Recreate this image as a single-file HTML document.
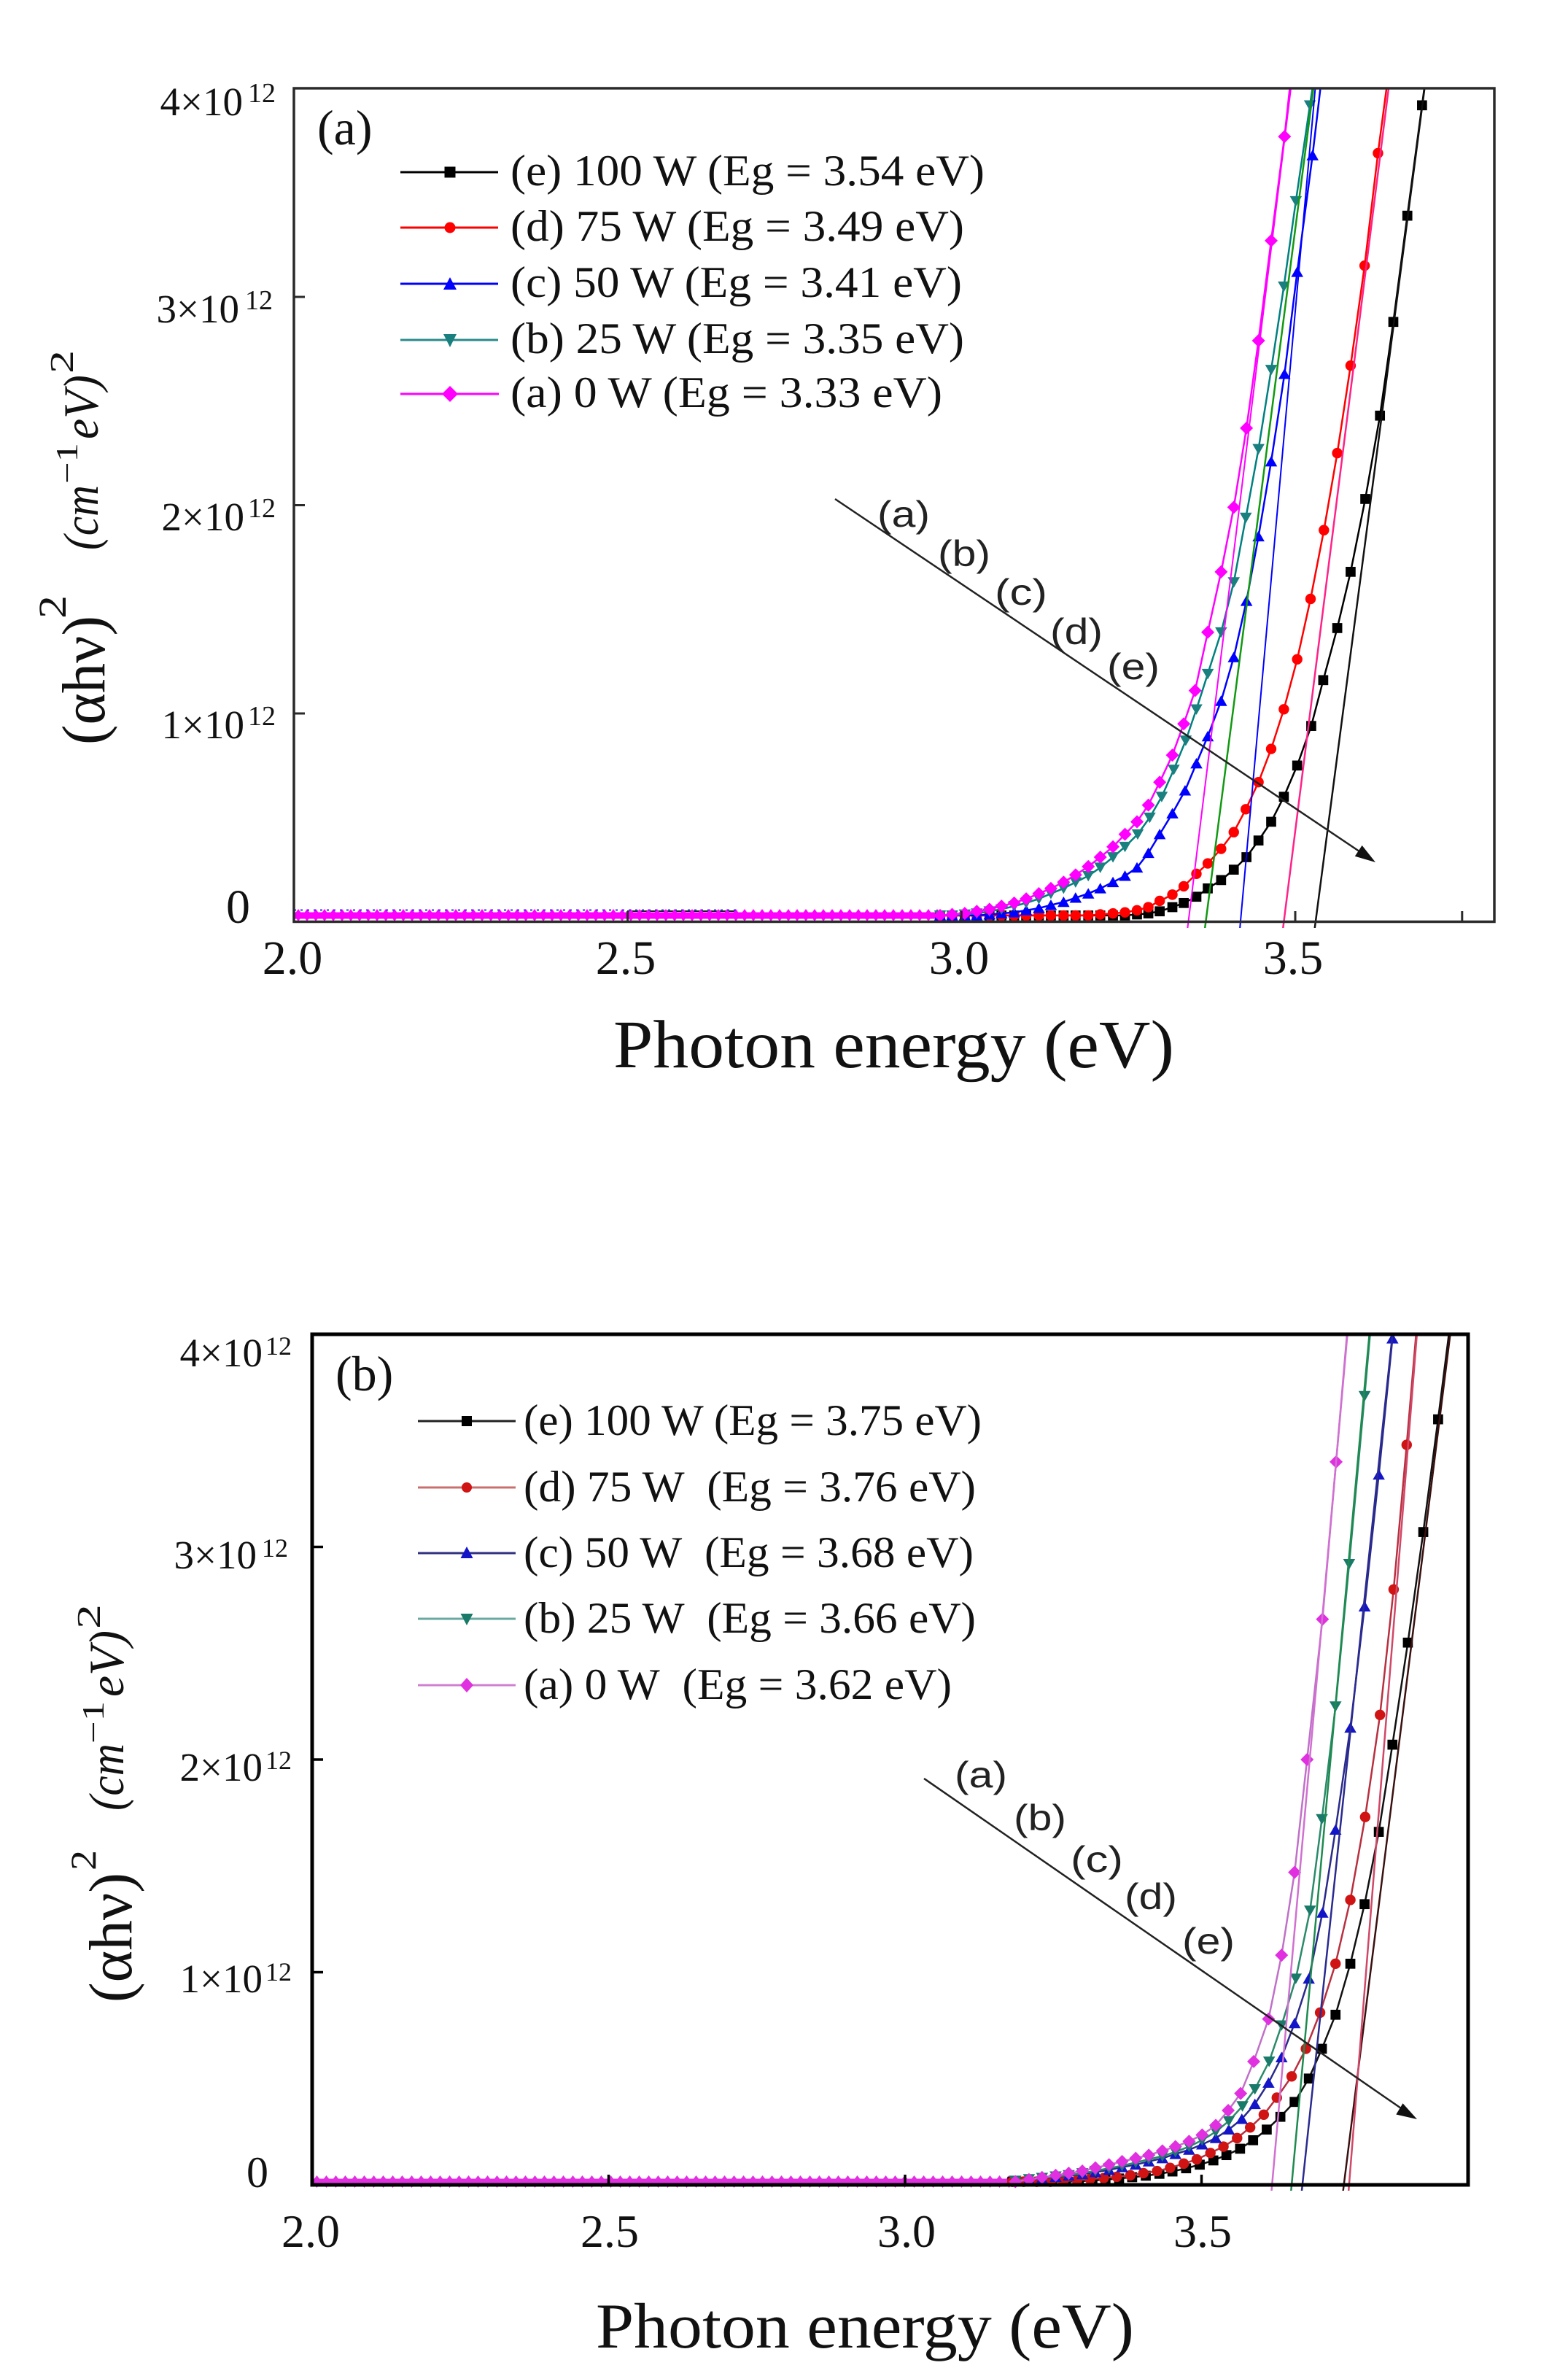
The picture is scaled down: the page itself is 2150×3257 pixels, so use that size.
<!DOCTYPE html>
<html><head><meta charset="utf-8"><style>html,body{margin:0;padding:0;background:#fff}svg{display:block}</style></head>
<body>
<svg xmlns="http://www.w3.org/2000/svg" width="2150" height="3257" viewBox="0 0 2150 3257" font-family="'Liberation Serif', serif">
<defs>
  <clipPath id="clipA"><rect x="403" y="121" width="1646" height="1151"/></clipPath>
  <clipPath id="clipB"><rect x="428" y="1829" width="1585" height="1174"/></clipPath>
  <!-- panel (a) markers: 18px in screen space -->
  <marker id="a1" markerUnits="userSpaceOnUse" markerWidth="0.01967" markerHeight="0.06305" viewBox="0 0 10 10" refX="5" refY="5" preserveAspectRatio="none"><rect x="1.2" y="1.2" width="7.6" height="7.6" fill="#000"/></marker>
  <marker id="a2" markerUnits="userSpaceOnUse" markerWidth="0.01967" markerHeight="0.06305" viewBox="0 0 10 10" refX="5" refY="5" preserveAspectRatio="none"><circle cx="5" cy="5" r="4" fill="#ff0000"/></marker>
  <marker id="a3" markerUnits="userSpaceOnUse" markerWidth="0.01967" markerHeight="0.06305" viewBox="0 0 10 10" refX="5" refY="5" preserveAspectRatio="none"><polygon points="5,0.8 9.6,8.8 0.4,8.8" fill="#0000ff"/></marker>
  <marker id="a4" markerUnits="userSpaceOnUse" markerWidth="0.01967" markerHeight="0.06305" viewBox="0 0 10 10" refX="5" refY="5" preserveAspectRatio="none"><polygon points="0.4,1.2 9.6,1.2 5,9.2" fill="#1a7f7f"/></marker>
  <marker id="a5" markerUnits="userSpaceOnUse" markerWidth="0.01967" markerHeight="0.06305" viewBox="0 0 10 10" refX="5" refY="5" preserveAspectRatio="none"><polygon points="5,0 10,5 5,10 0,5" fill="#ff00ff"/></marker>
  <!-- panel (b) markers -->
  <marker id="b1" markerUnits="userSpaceOnUse" markerWidth="0.02214" markerHeight="0.06175" viewBox="0 0 10 10" refX="5" refY="5" preserveAspectRatio="none"><rect x="1.2" y="1.2" width="7.6" height="7.6" fill="#000"/></marker>
  <marker id="b2" markerUnits="userSpaceOnUse" markerWidth="0.02214" markerHeight="0.06175" viewBox="0 0 10 10" refX="5" refY="5" preserveAspectRatio="none"><circle cx="5" cy="5" r="4" fill="#d01414"/></marker>
  <marker id="b3" markerUnits="userSpaceOnUse" markerWidth="0.02214" markerHeight="0.06175" viewBox="0 0 10 10" refX="5" refY="5" preserveAspectRatio="none"><polygon points="5,0.8 9.6,8.8 0.4,8.8" fill="#1414c8"/></marker>
  <marker id="b4" markerUnits="userSpaceOnUse" markerWidth="0.02214" markerHeight="0.06175" viewBox="0 0 10 10" refX="5" refY="5" preserveAspectRatio="none"><polygon points="0.4,1.2 9.6,1.2 5,9.2" fill="#1a7a6a"/></marker>
  <marker id="b5" markerUnits="userSpaceOnUse" markerWidth="0.02214" markerHeight="0.06175" viewBox="0 0 10 10" refX="5" refY="5" preserveAspectRatio="none"><polygon points="5,0 10,5 5,10 0,5" fill="#e030e0"/></marker>
  <pattern id="bandA" patternUnits="userSpaceOnUse" x="403" y="1246" width="12" height="17"><polygon points="6,0 12,8.5 6,17 0,8.5" fill="#ff00ff"/></pattern>
  <pattern id="bandB" patternUnits="userSpaceOnUse" x="428" y="2982" width="13" height="17"><polygon points="6.5,0 13,8.5 6.5,17 0,8.5" fill="#e030e0"/></pattern>
</defs>

<!-- ================= PANEL (a) ================= -->
<g clip-path="url(#clipA)">
  <line x1="860" y1="1249" x2="1010" y2="1249" stroke="#222" stroke-width="2"/>
  <rect x="403" y="1246" width="886" height="17" fill="url(#bandA)"/>
  <rect x="403" y="1250.5" width="886" height="9" fill="#ff00ff"/>
  <line x1="403" y1="1247.5" x2="1010" y2="1247.5" stroke="#3030ff" stroke-width="2" stroke-dasharray="3 6"/>
  <g transform="matrix(915.3 0 0 285.5 -1427.6 1263.5)" fill="none" stroke-linejoin="round">
    <polyline vector-effect="non-scaling-stroke" stroke="#000" stroke-width="2.5" marker-start="url(#a1)" marker-mid="url(#a1)" marker-end="url(#a1)" points="3.710,-4.4 3.690,-3.92 3.668,-3.39 3.647,-2.88 3.627,-2.43 3.605,-2.03 3.583,-1.68 3.563,-1.41 3.542,-1.16 3.524,-0.94 3.503,-0.75 3.483,-0.60 3.464,-0.48 3.445,-0.39 3.427,-0.31 3.408,-0.25 3.389,-0.20 3.369,-0.16 3.352,-0.12 3.333,-0.09 3.316,-0.07 3.297,-0.05 3.280,-0.04 3.263,-0.035 3.245,-0.03 3.227,-0.03 3.208,-0.03 3.190,-0.03 3.171,-0.03 3.153,-0.03 3.134,-0.03 3.116,-0.03 3.097,-0.03 3.079,-0.03 3.060,-0.03 3.042,-0.03 3.023,-0.03 3.005,-0.03 2.986,-0.03 2.968,-0.03"/>
    <polyline vector-effect="non-scaling-stroke" stroke="#ff0000" stroke-width="2.5" marker-start="url(#a2)" marker-mid="url(#a2)" marker-end="url(#a2)" points="3.645,-4.2 3.624,-3.69 3.604,-3.15 3.583,-2.67 3.563,-2.25 3.543,-1.88 3.523,-1.55 3.503,-1.26 3.483,-1.02 3.464,-0.83 3.445,-0.67 3.426,-0.54 3.408,-0.43 3.389,-0.35 3.369,-0.28 3.352,-0.23 3.333,-0.17 3.316,-0.13 3.297,-0.10 3.280,-0.07 3.263,-0.055 3.245,-0.045 3.227,-0.04 3.208,-0.035 3.190,-0.03 3.171,-0.03 3.153,-0.03 3.134,-0.03 3.116,-0.03 3.097,-0.03 3.079,-0.03 3.060,-0.03 3.042,-0.03 3.023,-0.03 3.005,-0.03 2.986,-0.03 2.968,-0.03"/>
    <polyline vector-effect="non-scaling-stroke" stroke="#0000ff" stroke-width="2.5" marker-start="url(#a3)" marker-mid="url(#a3)" marker-end="url(#a3)" points="3.545,-4.2 3.526,-3.68 3.503,-3.12 3.484,-2.63 3.464,-2.21 3.445,-1.85 3.427,-1.54 3.408,-1.27 3.389,-1.06 3.369,-0.89 3.352,-0.76 3.335,-0.63 3.316,-0.52 3.297,-0.42 3.280,-0.33 3.263,-0.26 3.245,-0.22 3.227,-0.19 3.208,-0.16 3.190,-0.135 3.171,-0.115 3.153,-0.095 3.134,-0.08 3.116,-0.065 3.097,-0.055 3.079,-0.045 3.060,-0.04 3.042,-0.035 3.023,-0.03 3.005,-0.03 2.986,-0.03 2.968,-0.03"/>
    <polyline vector-effect="non-scaling-stroke" stroke="#008080" stroke-width="2.5" marker-start="url(#a4)" marker-mid="url(#a4)" marker-end="url(#a4)" points="3.540,-4.3 3.522,-3.92 3.501,-3.46 3.483,-3.05 3.464,-2.65 3.445,-2.27 3.426,-1.94 3.408,-1.63 3.389,-1.39 3.369,-1.19 3.352,-1.02 3.336,-0.87 3.318,-0.73 3.300,-0.60 3.282,-0.50 3.264,-0.42 3.245,-0.36 3.227,-0.31 3.208,-0.26 3.190,-0.22 3.171,-0.19 3.153,-0.16 3.134,-0.135 3.116,-0.11 3.097,-0.09 3.079,-0.075 3.060,-0.06 3.042,-0.05 3.023,-0.04 3.005,-0.035 2.986,-0.03 2.968,-0.03"/>
    <polyline vector-effect="non-scaling-stroke" stroke="#ff00ff" stroke-width="2.5" marker-start="url(#a5)" marker-mid="url(#a5)" marker-end="url(#a5)" points="3.502,-4.3 3.484,-3.77 3.464,-3.27 3.445,-2.79 3.427,-2.37 3.408,-1.99 3.389,-1.68 3.369,-1.39 3.350,-1.11 3.333,-0.95 3.316,-0.80 3.297,-0.67 3.280,-0.56 3.263,-0.48 3.245,-0.42 3.227,-0.36 3.208,-0.31 3.190,-0.265 3.171,-0.225 3.153,-0.19 3.134,-0.16 3.116,-0.135 3.097,-0.11 3.079,-0.09 3.060,-0.075 3.042,-0.06 3.023,-0.05 3.005,-0.04 2.986,-0.035 2.968,-0.03"/>
    <!-- linear fits -->
    <polyline vector-effect="non-scaling-stroke" stroke="#111" stroke-width="2.5" points="3.5293,0.03 3.6978,-4.1"/>
    <polyline vector-effect="non-scaling-stroke" stroke="#ff2288" stroke-width="2.5" points="3.4818,0.03 3.6438,-4.1"/>
    <polyline vector-effect="non-scaling-stroke" stroke="#0000ff" stroke-width="2" points="3.4172,0.03 3.5328,-4.1"/>
    <polyline vector-effect="non-scaling-stroke" stroke="#119911" stroke-width="2.5" points="3.3648,0.03 3.5313,-4.1"/>
    <polyline vector-effect="non-scaling-stroke" stroke="#ff00ff" stroke-width="2" points="3.3388,0.03 3.4973,-4.1"/>
  </g>
</g>
<!-- frame (a) -->
<rect x="403" y="121" width="1646" height="1142.5" fill="none" stroke="#2a2a2a" stroke-width="3.5"/>
<g stroke="#2a2a2a" stroke-width="3">
  <line x1="403" y1="978" x2="418" y2="978"/>
  <line x1="403" y1="692.5" x2="418" y2="692.5"/>
  <line x1="403" y1="407" x2="418" y2="407"/>
  <line x1="860.6" y1="1263.5" x2="860.6" y2="1249"/>
  <line x1="1318.3" y1="1263.5" x2="1318.3" y2="1249"/>
  <line x1="1776" y1="1263.5" x2="1776" y2="1249"/>
  <line x1="2004.8" y1="1263.5" x2="2004.8" y2="1249"/>
</g>
<!-- arrow (a) -->
<line x1="1145" y1="684" x2="1872" y2="1172.5" stroke="#222" stroke-width="2.5"/>
<polygon points="1886,1182 1857.8,1173.7 1867.6,1158.9" fill="#111"/>
<g font-family="'Liberation Sans', sans-serif" font-size="50" fill="#222" text-anchor="middle">
  <text x="1239" y="722" textLength="72" lengthAdjust="spacingAndGlyphs">(a)</text>
  <text x="1322" y="776" textLength="72" lengthAdjust="spacingAndGlyphs">(b)</text>
  <text x="1400" y="829" textLength="72" lengthAdjust="spacingAndGlyphs">(c)</text>
  <text x="1476" y="883" textLength="72" lengthAdjust="spacingAndGlyphs">(d)</text>
  <text x="1554" y="931" textLength="72" lengthAdjust="spacingAndGlyphs">(e)</text>
</g>
<!-- y tick labels (a) -->
<g fill="#111">
  <text x="333" y="158" font-size="55" text-anchor="end">4×10</text><text x="340" y="140" font-size="38">12</text>
  <text x="328" y="442" font-size="55" text-anchor="end">3×10</text><text x="336" y="424" font-size="38">12</text>
  <text x="335" y="727" font-size="55" text-anchor="end">2×10</text><text x="340" y="709" font-size="38">12</text>
  <text x="335" y="1012" font-size="55" text-anchor="end">1×10</text><text x="340" y="994" font-size="38">12</text>
  <text x="343" y="1265" font-size="66" text-anchor="end">0</text>
</g>
<!-- x tick labels (a) -->
<g fill="#111" font-size="66" text-anchor="middle">
  <text x="401" y="1335">2.0</text>
  <text x="858" y="1335">2.5</text>
  <text x="1315" y="1335">3.0</text>
  <text x="1773" y="1335">3.5</text>
</g>
<text x="841" y="1463" font-size="93" fill="#111" textLength="769" lengthAdjust="spacingAndGlyphs">Photon energy (eV)</text>
<text x="435" y="198" font-size="68" fill="#111">(a)</text>
<!-- y title (a) -->
<g fill="#111">
  <text transform="translate(143,1021) rotate(-90)" font-size="84" textLength="177" lengthAdjust="spacingAndGlyphs">(αhν)</text>
  <text transform="translate(90,848) rotate(-90)" font-size="54" textLength="32" lengthAdjust="spacingAndGlyphs">2</text>
  <text transform="translate(134,754) rotate(-90)" font-size="68" font-style="italic" textLength="89" lengthAdjust="spacingAndGlyphs">(cm</text>
  <text transform="translate(106,663) rotate(-90)" font-size="42" textLength="56" lengthAdjust="spacingAndGlyphs">−1</text>
  <text transform="translate(134,602) rotate(-90)" font-size="68" font-style="italic" textLength="88" lengthAdjust="spacingAndGlyphs">eV)</text>
  <text transform="translate(100,512) rotate(-90)" font-size="46" textLength="32" lengthAdjust="spacingAndGlyphs">2</text>
</g>
<!-- legend (a) -->
<g stroke-width="3">
  <line x1="549" y1="236" x2="683" y2="236" stroke="#000"/>
  <line x1="549" y1="312" x2="683" y2="312" stroke="#ff0000"/>
  <line x1="549" y1="389" x2="683" y2="389" stroke="#0000ff"/>
  <line x1="549" y1="466" x2="683" y2="466" stroke="#2a8a8a"/>
  <line x1="549" y1="540" x2="684" y2="540" stroke="#ff00ff"/>
</g>
<rect x="609.5" y="228.5" width="15" height="15" fill="#000"/>
<circle cx="617" cy="312" r="7.5" fill="#ff0000"/>
<polygon points="617,380 626,397 608,397" fill="#0000ff"/>
<polygon points="608,458 626,458 617,476" fill="#1a7f7f"/>
<polygon points="617,529 628,540 617,551 606,540" fill="#ff00ff"/>
<g font-size="60" fill="#111">
  <text x="700" y="254" textLength="650" lengthAdjust="spacingAndGlyphs">(e) 100 W (Eg = 3.54 eV)</text>
  <text x="700" y="330" textLength="622" lengthAdjust="spacingAndGlyphs">(d) 75 W (Eg = 3.49 eV)</text>
  <text x="700" y="407" textLength="619" lengthAdjust="spacingAndGlyphs">(c) 50 W (Eg = 3.41 eV)</text>
  <text x="700" y="484" textLength="622" lengthAdjust="spacingAndGlyphs">(b) 25 W (Eg = 3.35 eV)</text>
  <text x="700" y="558" textLength="592" lengthAdjust="spacingAndGlyphs">(a) 0 W (Eg = 3.33 eV)</text>
</g>

<!-- ================= PANEL (b) ================= -->
<g clip-path="url(#clipB)">
  <rect x="428" y="2982" width="964" height="17" fill="url(#bandB)"/>
  <rect x="428" y="2986.5" width="964" height="9" fill="#e030e0"/>
  <g transform="matrix(813 0 0 291.5 -1198 2995)" fill="none" stroke-linejoin="round">
    <polyline vector-effect="non-scaling-stroke" stroke="#111" stroke-width="2.5" marker-start="url(#b1)" marker-mid="url(#b1)" marker-end="url(#b1)" points="3.924,-4.15 3.899,-3.60 3.874,-3.07 3.848,-2.55 3.822,-2.07 3.799,-1.66 3.775,-1.32 3.751,-1.04 3.726,-0.80 3.703,-0.64 3.681,-0.50 3.657,-0.39 3.633,-0.32 3.610,-0.26 3.587,-0.21 3.565,-0.17 3.542,-0.14 3.520,-0.115 3.497,-0.095 3.474,-0.078 3.451,-0.063 3.429,-0.052 3.406,-0.043 3.383,-0.036 3.361,-0.03 3.338,-0.025 3.316,-0.02 3.293,-0.017 3.271,-0.015 3.248,-0.015 3.226,-0.015 3.203,-0.015 3.181,-0.015"/>
    <polyline vector-effect="non-scaling-stroke" stroke="#b83040" stroke-width="2.5" marker-start="url(#b2)" marker-mid="url(#b2)" marker-end="url(#b2)" points="3.868,-4.2 3.846,-3.48 3.824,-2.80 3.801,-2.21 3.776,-1.73 3.751,-1.34 3.726,-1.04 3.700,-0.81 3.676,-0.64 3.652,-0.51 3.627,-0.41 3.605,-0.33 3.582,-0.27 3.560,-0.22 3.537,-0.18 3.515,-0.15 3.492,-0.12 3.470,-0.10 3.447,-0.08 3.425,-0.065 3.402,-0.055 3.380,-0.045 3.357,-0.038 3.335,-0.032 3.312,-0.027 3.290,-0.022 3.267,-0.018 3.245,-0.015 3.222,-0.015 3.200,-0.015 3.181,-0.015"/>
    <polyline vector-effect="non-scaling-stroke" stroke="#2a2a8a" stroke-width="2.5" marker-start="url(#b3)" marker-mid="url(#b3)" marker-end="url(#b3)" points="3.845,-4.6 3.822,-3.98 3.799,-3.34 3.775,-2.72 3.751,-2.15 3.726,-1.67 3.704,-1.28 3.681,-0.97 3.657,-0.76 3.635,-0.60 3.613,-0.48 3.590,-0.38 3.568,-0.31 3.546,-0.26 3.524,-0.22 3.501,-0.19 3.479,-0.165 3.456,-0.145 3.434,-0.125 3.411,-0.11 3.389,-0.095 3.366,-0.083 3.344,-0.07 3.321,-0.06 3.299,-0.05 3.276,-0.043 3.254,-0.037 3.231,-0.03 3.209,-0.025 3.186,-0.02"/>
    <polyline vector-effect="non-scaling-stroke" stroke="#2a8a6a" stroke-width="2.5" marker-start="url(#b4)" marker-mid="url(#b4)" marker-end="url(#b4)" points="3.797,-4.4 3.775,-3.71 3.749,-2.92 3.726,-2.25 3.703,-1.72 3.683,-1.29 3.659,-0.97 3.635,-0.75 3.614,-0.58 3.590,-0.45 3.569,-0.37 3.546,-0.30 3.524,-0.25 3.501,-0.21 3.479,-0.18 3.456,-0.155 3.434,-0.135 3.411,-0.12 3.389,-0.105 3.366,-0.09 3.344,-0.078 3.321,-0.066 3.299,-0.055 3.276,-0.046 3.254,-0.04 3.231,-0.033 3.209,-0.027 3.186,-0.02"/>
    <polyline vector-effect="non-scaling-stroke" stroke="#c070c8" stroke-width="2.5" marker-start="url(#b5)" marker-mid="url(#b5)" marker-end="url(#b5)" points="3.749,-4.12 3.727,-3.40 3.704,-2.66 3.678,-2.00 3.657,-1.47 3.635,-1.08 3.613,-0.78 3.588,-0.58 3.566,-0.43 3.545,-0.35 3.524,-0.28 3.501,-0.235 3.479,-0.205 3.456,-0.18 3.434,-0.16 3.411,-0.14 3.389,-0.125 3.366,-0.11 3.344,-0.095 3.321,-0.08 3.299,-0.065 3.276,-0.055 3.254,-0.045 3.231,-0.035 3.209,-0.025 3.186,-0.015"/>
    <!-- linear fits -->
    <polyline vector-effect="non-scaling-stroke" stroke="#3a1010" stroke-width="2.5" points="3.7387,0.03 3.9239,-4.1"/>
    <polyline vector-effect="non-scaling-stroke" stroke="#d04868" stroke-width="2.5" points="3.748,0.03 3.8661,-4.1"/>
    <polyline vector-effect="non-scaling-stroke" stroke="#2a2a90" stroke-width="2.5" points="3.669,0.03 3.8259,-4.1"/>
    <polyline vector-effect="non-scaling-stroke" stroke="#1e8a50" stroke-width="2.5" points="3.651,0.03 3.7864,-4.1"/>
    <polyline vector-effect="non-scaling-stroke" stroke="#d070d0" stroke-width="2.5" points="3.618,0.03 3.7492,-4.1"/>
  </g>
</g>
<!-- frame (b) -->
<rect x="428" y="1829" width="1585" height="1166" fill="none" stroke="#000" stroke-width="5"/>
<g stroke="#000" stroke-width="3.5">
  <line x1="428" y1="2703.5" x2="443" y2="2703.5"/>
  <line x1="428" y1="2412" x2="443" y2="2412"/>
  <line x1="428" y1="2120.5" x2="443" y2="2120.5"/>
  <line x1="834.5" y1="2995" x2="834.5" y2="2981"/>
  <line x1="1241" y1="2995" x2="1241" y2="2981"/>
  <line x1="1647.5" y1="2995" x2="1647.5" y2="2981"/>
</g>
<!-- arrow (b) -->
<line x1="1267" y1="2438" x2="1929" y2="2895.5" stroke="#222" stroke-width="2.5"/>
<polygon points="1943,2905 1914.3,2898.5 1923.5,2883.3" fill="#111"/>
<g font-family="'Liberation Sans', sans-serif" font-size="50" fill="#222" text-anchor="middle">
  <text x="1345" y="2450" textLength="72" lengthAdjust="spacingAndGlyphs">(a)</text>
  <text x="1426" y="2509" textLength="72" lengthAdjust="spacingAndGlyphs">(b)</text>
  <text x="1504" y="2566" textLength="72" lengthAdjust="spacingAndGlyphs">(c)</text>
  <text x="1578" y="2617" textLength="72" lengthAdjust="spacingAndGlyphs">(d)</text>
  <text x="1657" y="2678" textLength="72" lengthAdjust="spacingAndGlyphs">(e)</text>
</g>
<!-- y tick labels (b) -->
<g fill="#111">
  <text x="360" y="1873" font-size="55" text-anchor="end">4×10</text><text x="364" y="1857" font-size="36">12</text>
  <text x="352" y="2150" font-size="55" text-anchor="end">3×10</text><text x="359" y="2134" font-size="36">12</text>
  <text x="360" y="2441" font-size="55" text-anchor="end">2×10</text><text x="364" y="2425" font-size="36">12</text>
  <text x="360" y="2731" font-size="55" text-anchor="end">1×10</text><text x="364" y="2715" font-size="36">12</text>
  <text x="368" y="2998" font-size="60" text-anchor="end">0</text>
</g>
<!-- x tick labels (b) -->
<g fill="#111" font-size="64" text-anchor="middle">
  <text x="426" y="3080">2.0</text>
  <text x="836" y="3080">2.5</text>
  <text x="1243" y="3080">3.0</text>
  <text x="1649" y="3080">3.5</text>
</g>
<text x="817" y="3218" font-size="88" fill="#111" textLength="738" lengthAdjust="spacingAndGlyphs">Photon energy (eV)</text>
<text x="460" y="1906" font-size="68" fill="#111">(b)</text>
<!-- y title (b) -->
<g fill="#111">
  <text transform="translate(180,2745) rotate(-90)" font-size="84" textLength="178" lengthAdjust="spacingAndGlyphs">(αhν)</text>
  <text transform="translate(131,2564) rotate(-90)" font-size="50" textLength="28" lengthAdjust="spacingAndGlyphs">2</text>
  <text transform="translate(169,2482) rotate(-90)" font-size="68" font-style="italic" textLength="92" lengthAdjust="spacingAndGlyphs">(cm</text>
  <text transform="translate(142,2390) rotate(-90)" font-size="42" textLength="58" lengthAdjust="spacingAndGlyphs">−1</text>
  <text transform="translate(169,2326) rotate(-90)" font-size="68" font-style="italic" textLength="91" lengthAdjust="spacingAndGlyphs">eV)</text>
  <text transform="translate(137,2233) rotate(-90)" font-size="46" textLength="34" lengthAdjust="spacingAndGlyphs">2</text>
</g>
<!-- legend (b) -->
<g stroke-width="3">
  <line x1="573" y1="1948" x2="707" y2="1948" stroke="#222"/>
  <line x1="573" y1="2039" x2="707" y2="2039" stroke="#c87070"/>
  <line x1="573" y1="2129" x2="707" y2="2129" stroke="#303080"/>
  <line x1="573" y1="2219" x2="707" y2="2219" stroke="#6aa8a0"/>
  <line x1="573" y1="2310" x2="707" y2="2310" stroke="#d080d0"/>
</g>
<rect x="633" y="1941" width="14" height="14" fill="#000"/>
<circle cx="640" cy="2039" r="7" fill="#d01414"/>
<polygon points="640,2120 648.5,2136 631.5,2136" fill="#1414c8"/>
<polygon points="631.5,2212 648.5,2212 640,2228" fill="#1a7a6a"/>
<polygon points="640,2300 649,2310 640,2320 631,2310" fill="#e030e0"/>
<g font-size="60" fill="#111">
  <text x="718" y="1967" textLength="628" lengthAdjust="spacingAndGlyphs">(e) 100 W (Eg = 3.75 eV)</text>
  <text x="718" y="2058" textLength="620" lengthAdjust="spacingAndGlyphs">(d) 75 W&#160; (Eg = 3.76 eV)</text>
  <text x="718" y="2148" textLength="617" lengthAdjust="spacingAndGlyphs">(c) 50 W&#160; (Eg = 3.68 eV)</text>
  <text x="718" y="2238" textLength="620" lengthAdjust="spacingAndGlyphs">(b) 25 W&#160; (Eg = 3.66 eV)</text>
  <text x="718" y="2329" textLength="587" lengthAdjust="spacingAndGlyphs">(a) 0 W&#160; (Eg = 3.62 eV)</text>
</g>
</svg>
</body></html>
